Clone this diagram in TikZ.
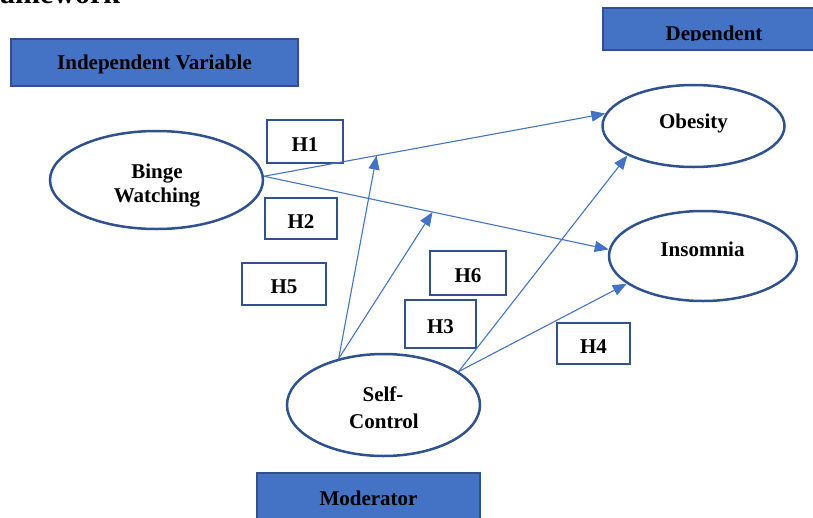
\documentclass[tikz,border=0pt]{standalone}
\usepackage{fontspec}
\setmainfont{Liberation Serif}
\usetikzlibrary{shapes.geometric,arrows.meta,calc}
\definecolor{boxblue}{HTML}{4472C4}
\definecolor{edgeblue}{HTML}{2F528F}
\definecolor{arrblue}{HTML}{4472C4}
\begin{document}
\begin{tikzpicture}[x=1pt,y=-1pt,
  lbl/.style={font=\fontsize{21}{24}\selectfont\bfseries, inner sep=0pt},
  header/.style={draw=edgeblue, line width=2pt, fill=boxblue, lbl, text height=14pt, text depth=0pt},
  hbox/.style={draw=edgeblue, line width=2.5pt, fill=white, lbl, text height=19pt, text depth=0pt},
  oval/.style={ellipse, draw=edgeblue, line width=2.5pt, fill=white, inner sep=0pt},
  link/.style={draw=arrblue, line width=1.1pt, -{Triangle[length=14pt,width=11pt]}},
]
\useasboundingbox (0,0) rectangle (813,517);

% cropped title
\node[anchor=base west, font=\fontsize{30}{36}\selectfont\bfseries, inner sep=0pt] (ttl) at (0,3) {amework};

% header boxes
\node[header, minimum width=287pt, minimum height=47pt] (iv) at (154.5,62.5) {Independent Variable};
\node[header, minimum width=227pt, minimum height=42pt] (dep) at (716.5,29) {};
\begin{scope}
  \clip (603,8) rectangle (813,40);
  \node[lbl, anchor=base] (dept) at (714,40) {Dependent};
\end{scope}
\node[header, minimum width=223pt, minimum height=50pt] (mod) at (368.5,498) {Moderator};

% ellipses
\node[oval, minimum width=213pt, minimum height=98pt] (bw) at (156.5,180) {};
\node[oval, minimum width=182pt, minimum height=82pt] (ob) at (693.5,126) {};
\node[oval, minimum width=188pt, minimum height=90pt] (ins) at (703,256) {};
\node[oval, minimum width=193pt, minimum height=102pt] (sc) at (383.5,405) {};

\node[lbl, anchor=base] (bw1) at (157,178) {Binge};
\node[lbl, anchor=base] (bw2) at (157,202) {Watching};
\node[lbl, anchor=base] (obt) at (693.5,128) {Obesity};
\node[lbl, anchor=base] (inst) at (702.5,256) {Insomnia};
\node[lbl, anchor=base] (sc1) at (383,401) {Self-};
\node[lbl, anchor=base] (sc2) at (384,428) {Control};

% hypothesis boxes
\node[hbox, minimum width=76pt, minimum height=43pt] (h1) at (305,141.5) {H1};
\node[hbox, minimum width=72pt, minimum height=41pt] (h2) at (301,218.5) {H2};
\node[hbox, minimum width=84pt, minimum height=42pt] (h5) at (284,284) {H5};
\node[hbox, minimum width=76pt, minimum height=44pt] (h6) at (468,273) {H6};
\node[hbox, minimum width=71pt, minimum height=48pt] (h3) at (440.5,324) {H3};
\node[hbox, minimum width=73pt, minimum height=41pt] (h4) at (593.5,343.5) {H4};

% connectors
\coordinate (m1) at ($(bw.2)!0.33!(ob.172)$);
\coordinate (m2) at ($(bw.2)!0.489!(ins.176)$);
\draw[link] (bw.2) -- (ob.172);
\draw[link] (bw.2) -- (ins.176);
\draw[link] (sc.134) -- (m1);
\draw[link] (sc.134) -- (m2);
\draw[link] (sc.24) -- (ob.204);
\draw[link] (sc.24) -- (ins.200);
\end{tikzpicture}
\end{document}
